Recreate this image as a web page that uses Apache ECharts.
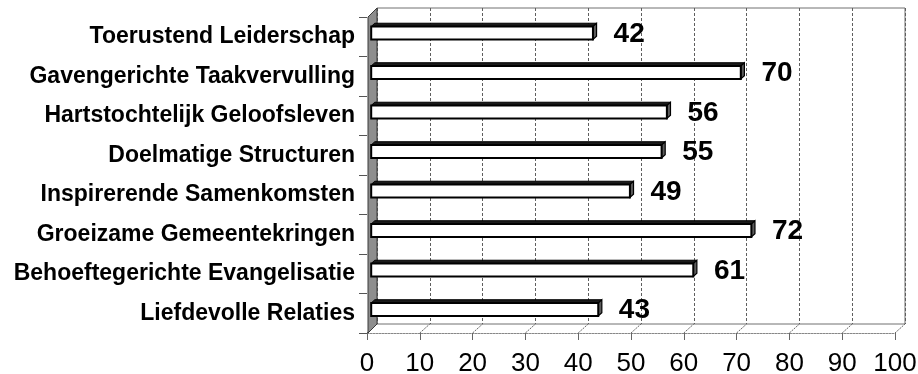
<!DOCTYPE html>
<html>
<head>
<meta charset="utf-8">
<script src="https://cdn.jsdelivr.net/npm/echarts@6/dist/echarts.min.js"></script>
<style>
  html, body { margin: 0; padding: 0; background: #fff; }
  #chart { width: 918px; height: 374px; }
</style>
</head>
<body>
<div id="chart"></div>
<script>
// Categories, top to bottom
const categories = [
  'Toerustend Leiderschap',
  'Gavengerichte Taakvervulling',
  'Hartstochtelijk Geloofsleven',
  'Doelmatige Structuren',
  'Inspirerende Samenkomsten',
  'Groeizame Gemeentekringen',
  'Behoeftegerichte Evangelisatie',
  'Liefdevolle Relaties'
];
// Score per category
const scores = [42, 70, 56, 55, 49, 72, 61, 43];
// Value axis ticks
const axisTicks = [0, 10, 20, 30, 40, 50, 60, 70, 80, 90, 100];

// Pseudo-3D layout: offset from the front plane to the back wall
const DEPTH = { dx: 10, dy: -9 };
const BAR_FRONT = 0.42;   // depth fraction of the bar's front face
const BAR_BACK = 0.78;    // depth fraction of the bar's back face
const BAR_HEIGHT = 13;
const LABEL_GAP = 17;
const FONT = '"Liberation Sans", Arial, Helvetica, sans-serif';

const chart = echarts.init(document.getElementById('chart'), null, { renderer: 'canvas' });

function renderBar(params, api) {
  const val = api.value(0);
  const idx = api.value(1);
  const start = api.coord([0, idx]);
  const end = api.coord([val, idx]);
  const ox = BAR_FRONT * DEPTH.dx, oy = BAR_FRONT * DEPTH.dy;
  const ddx = (BAR_BACK - BAR_FRONT) * DEPTH.dx;
  const ddy = (BAR_BACK - BAR_FRONT) * DEPTH.dy;
  const x0 = start[0] + ox, x1 = end[0] + ox;
  const cy = start[1] + oy;
  const y0 = cy - BAR_HEIGHT / 2, y1 = cy + BAR_HEIGHT / 2;
  return {
    type: 'group',
    children: [
      { // top face
        type: 'polygon',
        shape: { points: [[x0, y0], [x1, y0], [x1 + ddx, y0 + ddy], [x0 + ddx, y0 + ddy]] },
        style: { fill: '#1a1a1a', stroke: '#000', lineWidth: 1 }
      },
      { // end face
        type: 'polygon',
        shape: { points: [[x1, y0], [x1 + ddx, y0 + ddy], [x1 + ddx, y1 + ddy], [x1, y1]] },
        style: { fill: '#5c5c5c', stroke: '#000', lineWidth: 1.2 }
      },
      { // front face
        type: 'rect',
        shape: { x: x0, y: y0, width: x1 - x0, height: y1 - y0 },
        style: { fill: '#fff', stroke: '#000', lineWidth: 2 }
      },
      { // value label
        type: 'text',
        style: {
          text: String(val),
          x: x1 + ddx + LABEL_GAP,
          y: cy + 1,
          align: 'left',
          verticalAlign: 'middle',
          font: 'bold 28px ' + FONT,
          fill: '#000'
        }
      }
    ]
  };
}

// Floor: slanted division lines from the front edge to the back wall
function renderFloorLine(params, api) {
  const v = api.value(0);
  const p = api.coord([v, 0]);
  const cs = params.coordSys;
  const yb = cs.y + cs.height;
  return {
    type: 'line',
    shape: { x1: p[0], y1: yb, x2: p[0] + DEPTH.dx, y2: yb + DEPTH.dy },
    style: { stroke: '#666', lineWidth: 1, lineDash: [2, 1] }
  };
}

// Left side wall
function renderWall(params, api) {
  const cs = params.coordSys;
  const x = cs.x + 1, top = cs.y, bot = cs.y + cs.height;
  return {
    type: 'polygon',
    shape: { points: [[x, top], [x + DEPTH.dx - 1, top + DEPTH.dy], [x + DEPTH.dx - 1, bot + DEPTH.dy], [x, bot]] },
    style: { fill: '#8e8e8e', stroke: '#3a3a3a', lineWidth: 1 }
  };
}

const option = {
  animation: false,
  backgroundColor: '#fff',
  grid: [
    { // front plane
      left: 367, right: 23, top: 17, bottom: 41,
      outerBoundsMode: 'none', containLabel: false,
      show: false
    },
    { // back wall
      left: 367 + DEPTH.dx, right: 23 - DEPTH.dx, top: 17 + DEPTH.dy, bottom: 41 - DEPTH.dy,
      outerBoundsMode: 'none', containLabel: false,
      show: true, backgroundColor: '#fff', borderColor: '#707070', borderWidth: 1
    }
  ],
  xAxis: [
    {
      gridIndex: 0, type: 'value', min: 0, max: 100, interval: 10,
      axisLine: { show: true, lineStyle: { color: '#888', width: 1, type: [2, 1] } },
      axisTick: { show: true, length: 7, lineStyle: { color: '#666' } },
      splitLine: { show: false },
      axisLabel: {
        margin: 18, fontSize: 26, fontFamily: FONT, color: '#000',
        formatter: (v) => axisTicks.includes(v) ? String(v) : ''
      }
    },
    {
      gridIndex: 1, type: 'value', min: 0, max: 100, interval: 10,
      axisLine: { show: false }, axisTick: { show: false }, axisLabel: { show: false },
      splitLine: { show: true, lineStyle: { color: '#5e5e5e', width: 1, type: [3, 2] } }
    }
  ],
  yAxis: [
    {
      gridIndex: 0, type: 'category', data: categories, inverse: true,
      axisLine: { show: false },
      axisTick: { show: true, length: 8, lineStyle: { color: '#555' } },
      axisLabel: { margin: 12, fontSize: 23, fontWeight: 'bold', fontFamily: FONT, color: '#000' }
    },
    {
      gridIndex: 1, type: 'value', min: 0, max: 1, show: false, splitLine: { show: false }
    }
  ],
  series: [
    {
      type: 'custom', xAxisIndex: 0, yAxisIndex: 0, z: 1, silent: true,
      data: axisTicks.map(v => [v, 0]),
      renderItem: renderFloorLine
    },
    {
      type: 'custom', xAxisIndex: 0, yAxisIndex: 0, z: 2, silent: true,
      data: [[0, 0]],
      renderItem: renderWall
    },
    {
      type: 'custom', xAxisIndex: 0, yAxisIndex: 0, z: 3,
      encode: { x: 0, y: 1 },
      data: scores.map((s, i) => [s, i]),
      renderItem: renderBar
    }
  ]
};

chart.setOption(option);
</script>
</body>
</html>
